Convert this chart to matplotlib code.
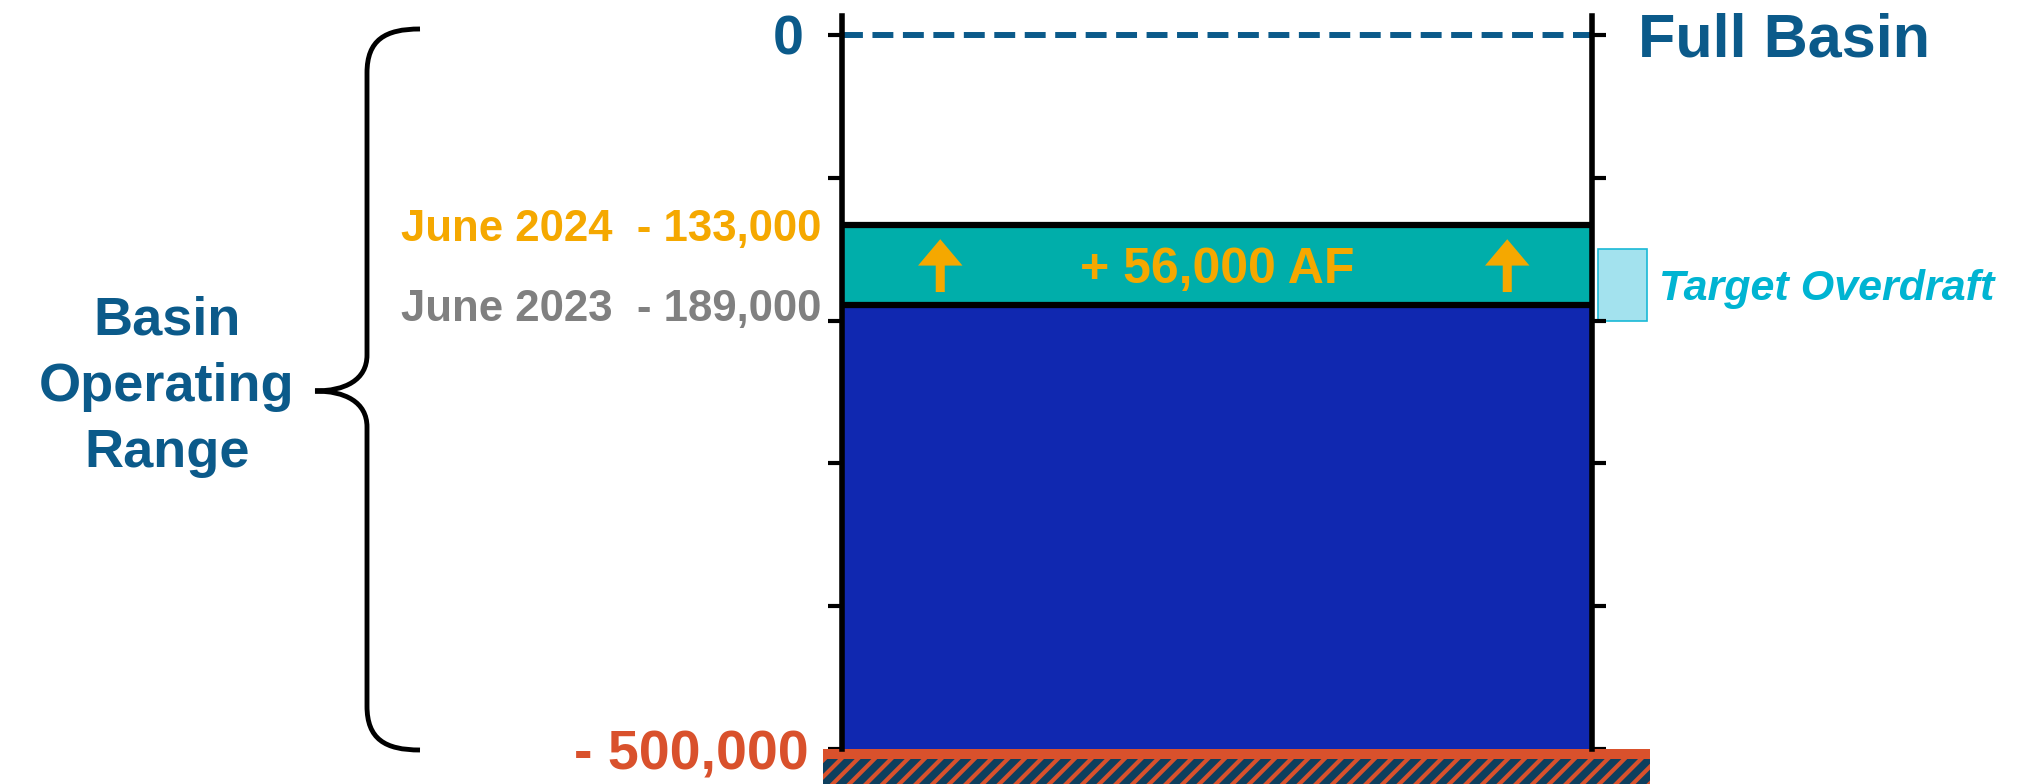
import matplotlib
matplotlib.use("Agg")
import matplotlib.pyplot as plt
from matplotlib.path import Path
from matplotlib.patches import PathPatch, Rectangle

# Basin storage levels (acre-feet below full basin)
full_basin = 0
basin_floor = -500000
survey_years = [2024, 2023]
storage_levels = [-133000, -189000]
target_overdraft = [-150000, -200000]
tick_values = [0, -100000, -200000, -300000, -400000, -500000]

NAVY = "#0b5a8a"
ORANGE = "#f5a800"
GREY = "#808080"
RED = "#d9512c"
TEAL = "#00aeaa"
BLUE = "#1028b0"
CYAN = "#00b4d2"
DEEP = "#0e3f5e"

ARIAL = ["Liberation Sans", "DejaVu Sans"]
plt.rcParams["hatch.linewidth"] = 3.0

W, H = 2026, 784
fig = plt.figure(figsize=(W / 100, H / 100), dpi=100)

# pixel-space layer for the brace and side caption
bg = fig.add_axes([0, 0, 1, 1], zorder=0)
bg.set_xlim(0, W)
bg.set_ylim(H, 0)
bg.axis("off")

ax = fig.add_axes([842 / W, 0, 750 / W, 1], zorder=1)
ax.set_xlim(0, 1)
ax.set_ylim(-524500, 24500)
ax.patch.set_visible(False)
for side in ("top", "bottom"):
    ax.spines[side].set_visible(False)
for side in ("left", "right"):
    ax.spines[side].set_linewidth(4)
    ax.spines[side].set_bounds(basin_floor, 13000)
    ax.spines[side].set_zorder(4)
ax.set_xticks([])
ax.set_yticks(tick_values)
ax.tick_params(axis="y", left=True, right=True, labelleft=False,
               labelright=False, direction="out", length=10, width=3,
               color="black")

level_new, level_old = storage_levels

# storage columns
ax.bar(0.5, level_new - level_old, bottom=level_old, width=1, color=TEAL,
       edgecolor="#29b6e3", linewidth=1.5, zorder=2)
ax.bar(0.5, level_old - basin_floor, bottom=basin_floor, width=1,
       color=BLUE, linewidth=0, zorder=2)
ax.hlines(storage_levels, 0, 1, colors="black", lw=4.5, zorder=3)

# full-basin reference
ax.hlines(full_basin, 0, 1, colors=NAVY, lw=4.3,
          linestyles=(0, (3.5, 1.6)), zorder=3)

# basin floor band
ax.add_patch(Rectangle((-0.025, basin_floor - 7000), 1.102, 7000,
                       facecolor=RED, edgecolor="none", clip_on=False,
                       zorder=3))
ax.add_patch(Rectangle((-0.025, -524500), 1.102, 524500 + basin_floor - 7000,
                       facecolor=DEEP, edgecolor=RED, linewidth=0,
                       hatch="//", clip_on=False, zorder=3))

# target overdraft marker
t_top, t_bot = target_overdraft
ax.add_patch(Rectangle((1.008, t_bot), 0.065, t_top - t_bot,
                       facecolor="#a3e2ee", edgecolor="#19b9d6",
                       linewidth=1.2, clip_on=False, zorder=1))
ax.text(1.089, (t_top + t_bot) / 2, "Target Overdraft", ha="left",
        va="center_baseline", fontsize=31, fontweight="bold",
        fontstyle="italic", color=CYAN, family=ARIAL)

# change arrows and label
for xa in (0.131, 0.887):
    ax.annotate("", xy=(xa, level_new - 10000), xytext=(xa, level_old + 9000),
                arrowprops=dict(arrowstyle="simple,head_length=1.9,"
                                "head_width=3.2,tail_width=0.65",
                                facecolor=ORANGE, edgecolor="none", lw=0,
                                shrinkA=0, shrinkB=0, mutation_scale=10),
                zorder=5)
ax.text(0.5, (level_new + level_old) / 2,
        f"+ {level_new - level_old:,} AF", ha="center",
        va="center_baseline", fontsize=36, fontweight="bold", color=ORANGE,
        family=ARIAL, zorder=5)

# level labels
for yr, lv, col in zip(survey_years, storage_levels, [ORANGE, GREY]):
    ax.text(-0.027, lv, f"June {yr}  - {abs(lv):,}", ha="right",
            va="center_baseline", fontsize=31.5, fontweight="bold", color=col,
            family=ARIAL)

ax.text(-0.051, full_basin, f"{full_basin}", ha="right",
        va="center_baseline", fontsize=40, fontweight="bold", color=NAVY,
        family=ARIAL)
ax.text(-0.045, basin_floor, f"- {abs(basin_floor):,}", ha="right",
        va="center_baseline", fontsize=40, fontweight="bold", color=RED,
        family=ARIAL)
ax.text(1.061, full_basin, "Full Basin", ha="left", va="center_baseline",
        fontsize=44, fontweight="bold", color=NAVY, family=ARIAL)

# brace spanning the operating range
xs, xt, xe = 367, 315, 420
yt, ym, yb = 29, 391, 750
verts = [
    (xe, yt), (385, yt), (xs, yt + 11), (xs, yt + 44),
    (xs, ym - 36),
    (xs, ym - 11), (345, ym), (xt, ym),
    (345, ym), (xs, ym + 11), (xs, ym + 36),
    (xs, yb - 44),
    (xs, yb - 11), (385, yb), (xe, yb),
]
codes = [Path.MOVETO, Path.CURVE4, Path.CURVE4, Path.CURVE4,
         Path.LINETO,
         Path.CURVE4, Path.CURVE4, Path.CURVE4,
         Path.CURVE4, Path.CURVE4, Path.CURVE4,
         Path.LINETO,
         Path.CURVE4, Path.CURVE4, Path.CURVE4]
bg.add_patch(PathPatch(Path(verts, codes), facecolor="none",
                       edgecolor="black", lw=3.5, capstyle="butt"))
bg.text(167, 387, "Basin\nOperating\nRange", ha="center", va="center",
        fontsize=39, fontweight="bold", color=NAVY, family=ARIAL,
        linespacing=1.42)

fig.savefig("out.png", dpi=100)
